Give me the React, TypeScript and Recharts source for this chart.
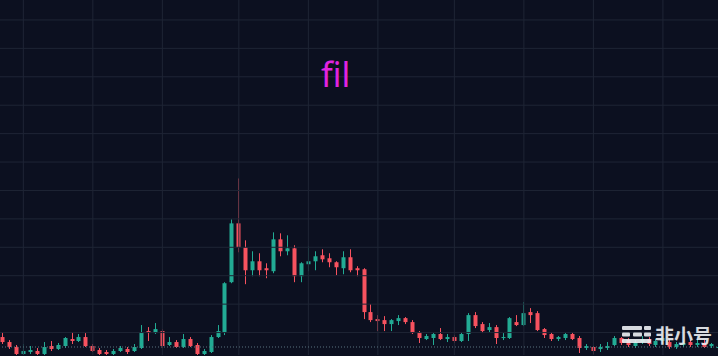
import React from "react";
import {
  ComposedChart,
  Bar,
  XAxis,
  YAxis,
  ReferenceLine,
} from "recharts";

// daily candles, first one on 2021-06-28
const firstDay = [2021, 5, 28];

const opens = [
  4.21, 3.33, 2.46, 1.23, 1.58, 1.75, 1.23, 2.63, 2.11, 2.63,
  3.86, 3.51, 4.21, 2.63, 1.93, 1.58, 1.23, 1.75, 2.11, 1.75,
  2.28, 5.26, 4.91, 5.26, 2.81, 3.33, 2.46, 3.86, 2.81, 1.23,
  1.58, 4.21, 5.09, 13.86, 24.21, 20.0, 15.96, 17.54, 16.32, 15.79,
  21.4, 19.3, 19.82, 14.91, 17.02, 17.54, 18.6, 18.07, 17.37, 16.32,
  18.25, 16.32, 16.14, 8.6, 7.37, 7.19, 6.49, 7.02, 7.54, 6.84,
  5.09, 3.86, 4.04, 4.74, 3.86, 4.21, 3.51, 4.74, 8.07, 6.49,
  5.44, 5.96, 4.04, 4.04, 6.84, 6.32, 8.6, 8.42, 5.61, 4.74,
  3.86, 4.04, 4.74, 4.04, 2.28, 2.46, 2.11, 2.28, 2.81, 4.04,
  3.68, 2.63, 3.33, 3.86, 2.81, 3.51, 3.33, 2.46, 2.81, 3.33,
  2.81, 3.16, 2.63, 2.28,
];

const highs = [
  5.09, 3.68, 2.81, 2.98, 2.63, 2.28, 3.33, 3.51, 3.16, 4.21,
  5.09, 4.74, 4.91, 2.98, 2.28, 1.93, 2.11, 2.63, 2.46, 2.98,
  6.32, 5.96, 6.67, 5.61, 4.21, 3.68, 4.74, 4.21, 3.16, 2.11,
  4.56, 6.32, 13.86, 24.91, 32.11, 21.23, 19.3, 18.95, 17.19, 22.63,
  22.46, 22.11, 20.35, 17.37, 20.18, 19.3, 19.65, 18.95, 17.54, 19.3,
  19.65, 16.67, 16.32, 10.0, 8.07, 7.89, 7.37, 8.07, 7.72, 7.19,
  5.26, 4.74, 4.91, 5.79, 4.74, 4.56, 5.09, 8.42, 8.6, 6.84,
  6.67, 6.32, 4.91, 7.72, 8.07, 10.35, 9.3, 8.77, 5.79, 5.09,
  4.39, 4.91, 5.09, 4.39, 2.98, 2.63, 2.98, 3.33, 4.39, 4.21,
  4.04, 3.68, 4.39, 4.21, 3.86, 4.39, 3.86, 3.33, 3.51, 3.68,
  3.86, 3.68, 3.16, 2.81,
];

const lows = [
  2.98, 2.11, 0.88, 1.05, 1.23, 1.05, 1.05, 1.75, 1.93, 2.28,
  2.98, 3.33, 2.46, 1.58, 1.05, 1.05, 1.05, 1.58, 1.23, 1.58,
  2.11, 3.51, 4.74, 2.28, 2.63, 2.28, 2.28, 2.46, 1.05, 1.05,
  1.4, 4.04, 4.56, 13.68, 19.12, 13.51, 14.91, 14.91, 14.56, 15.44,
  18.42, 18.6, 13.86, 13.86, 15.79, 15.96, 17.37, 16.49, 15.09, 15.26,
  15.61, 14.91, 7.37, 6.84, 5.26, 5.26, 5.26, 6.32, 6.49, 4.74,
  3.16, 3.68, 2.81, 3.68, 3.33, 3.16, 3.33, 3.51, 5.79, 4.91,
  5.09, 2.98, 3.68, 3.86, 6.14, 6.14, 6.67, 5.26, 4.04, 3.51,
  3.51, 3.68, 3.68, 1.4, 1.93, 1.23, 1.58, 1.93, 2.63, 2.81,
  2.46, 2.28, 2.98, 2.63, 2.46, 3.16, 2.11, 2.11, 2.46, 2.46,
  2.46, 2.28, 2.28, 2.11,
];

const closes = [
  3.33, 2.46, 1.23, 1.75, 1.93, 1.23, 2.46, 2.11, 2.81, 4.04,
  3.51, 4.21, 2.63, 1.75, 1.23, 1.23, 1.75, 2.28, 1.58, 2.46,
  5.09, 4.91, 5.61, 2.63, 3.33, 2.46, 3.86, 2.63, 1.23, 1.75,
  4.21, 5.26, 13.68, 24.21, 20.0, 15.96, 17.54, 15.96, 15.96, 21.4,
  19.3, 19.82, 14.91, 17.19, 17.54, 18.42, 17.89, 17.37, 16.49, 18.25,
  15.96, 15.96, 8.6, 7.19, 7.02, 6.49, 7.19, 7.54, 6.84, 4.91,
  4.04, 4.39, 4.74, 3.86, 4.21, 3.51, 4.74, 8.07, 6.14, 5.26,
  5.96, 4.04, 4.21, 7.54, 6.32, 8.42, 8.07, 5.44, 4.56, 3.86,
  4.21, 4.74, 3.86, 2.28, 2.63, 1.75, 2.46, 2.63, 4.04, 3.16,
  2.81, 3.33, 3.86, 2.98, 3.51, 4.04, 2.46, 2.98, 3.16, 2.81,
  3.16, 2.46, 2.98, 2.46,
];

// vertical grid lines
const gridDates = [
  "2021-07-01", "2021-07-11", "2021-07-21", "2021-08-01", "2021-08-11",
  "2021-08-21", "2021-09-01", "2021-09-11", "2021-09-21", "2021-10-01",
];
const priceTicks = [5, 10, 15, 20, 25, 30, 35, 40, 45, 50, 55, 60];

const UP = "#22ab94";
const DOWN = "#f7525f";
const GRID = "#1f2535";
const BODY_W = 4;

const data = opens.map((open, i) => {
  const d = new Date(Date.UTC(firstDay[0], firstDay[1], firstDay[2] + i));
  return {
    date: d.toISOString().slice(0, 10),
    open,
    high: highs[i],
    low: lows[i],
    close: closes[i],
  };
});

const lastClose = closes[closes.length - 1];

const Candle = (props: any) => {
  const { x, y, width, height, payload } = props;
  const { open, close, high, low } = payload;
  const top = Math.min(y, y + height);
  const h = Math.abs(height);
  const ratio = high - low > 0 ? h / (high - low) : 0;
  const bodyTop = top + (high - Math.max(open, close)) * ratio;
  const bodyH = Math.max(1, Math.abs(open - close) * ratio);
  const color = close >= open ? UP : DOWN;
  const cx = Math.round(x + width / 2) + 0.5;
  return (
    <g>
      <line x1={cx} x2={cx} y1={top} y2={top + h} stroke={color} strokeWidth={1} />
      <rect x={cx - BODY_W / 2} y={bodyTop} width={BODY_W} height={bodyH} fill={color} />
    </g>
  );
};

const App: React.FC = () => {
  return (
    <div
      style={{
        position: "fixed",
        left: 0,
        top: 0,
        width: 718,
        height: 356,
        overflow: "hidden",
        background: "#0c1020",
      }}
    >
      <ComposedChart
        width={724}
        height={356}
        data={data}
        margin={{ top: 0, right: 0, bottom: 0, left: 0 }}
        style={{ position: "absolute", left: -2, top: 0 }}
      >
        <XAxis
          dataKey="date"
          interval={0}
          tick={false}
          tickLine={false}
          axisLine={false}
          height={1}
        />
        <YAxis
          type="number"
          domain={[1.05, 63.51]}
          allowDataOverflow
          tick={false}
          tickLine={false}
          axisLine={false}
          width={1}
        />
        {priceTicks.map((p) => (
          <ReferenceLine key={"h" + p} y={p} stroke={GRID} strokeWidth={1} />
        ))}
        {gridDates.map((d) => (
          <ReferenceLine key={"v" + d} x={d} stroke={GRID} strokeWidth={1} />
        ))}
        <ReferenceLine y={lastClose} stroke="#5b7380" strokeDasharray="1 2" />
        <Bar
          dataKey={(d: any) => [d.low, d.high]}
          shape={Candle}
          barSize={BODY_W}
          isAnimationActive={false}
        />
      </ComposedChart>

      <div
        style={{
          position: "absolute",
          left: 321,
          top: 57,
          fontFamily: "'Noto Sans', sans-serif",
          fontSize: 34,
          lineHeight: "34px",
          color: "#e024e0",
        }}
      >
        fil
      </div>

      <div
        style={{
          position: "absolute",
          left: 622,
          top: 325,
          display: "flex",
          alignItems: "center",
          opacity: 0.9,
        }}
      >
        <svg width={30} height={17}>
          <rect x={0} y={0} width={20} height={4} rx={1} fill="#eef0f4" />
          <rect x={22} y={0} width={7} height={4} rx={1} fill="#eef0f4" />
          <rect x={0} y={6.5} width={8} height={4} rx={1} fill="#eef0f4" />
          <rect x={11} y={6.5} width={9} height={4} rx={1} fill="#eef0f4" />
          <rect x={22} y={6.5} width={7} height={4} rx={1} fill="#eef0f4" />
          <rect x={0} y={13} width={29} height={4} rx={1} fill="#eef0f4" />
        </svg>
        <span
          style={{
            marginLeft: 3,
            fontFamily: "'Noto Sans CJK SC', sans-serif",
            fontWeight: 700,
            fontSize: 19,
            lineHeight: "19px",
            color: "#eef0f4",
          }}
        >
          非小号
        </span>
      </div>
    </div>
  );
};

export default App;
